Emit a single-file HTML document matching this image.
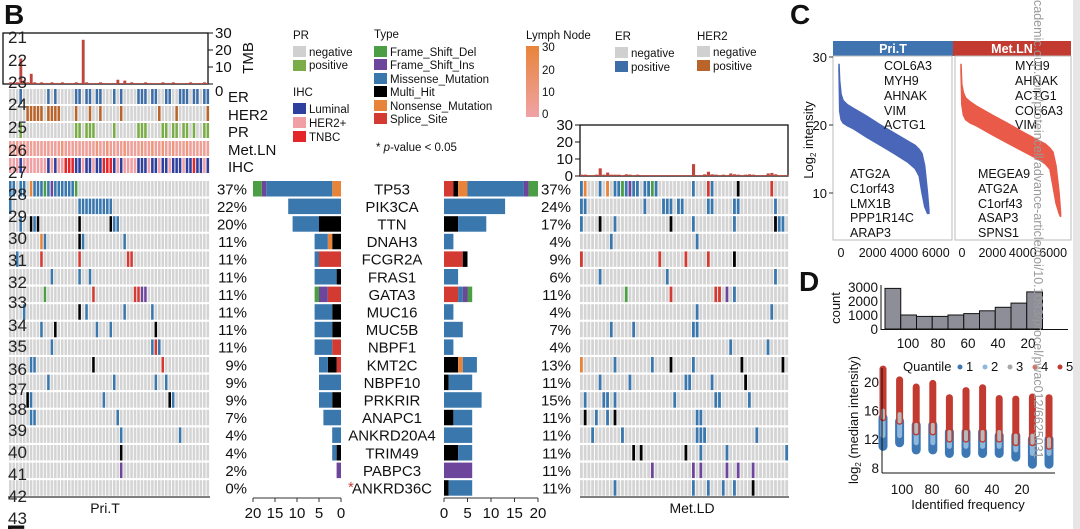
<!DOCTYPE html>
<html><head><meta charset="utf-8">
<style>
html,body{margin:0;padding:0;background:#fff;}
svg{display:block;font-family:"Liberation Sans",Arial,sans-serif;}
text{fill:#111;}
</style></head>
<body>
<svg id="fig" width="1080" height="529" viewBox="0 0 1080 529" xmlns="http://www.w3.org/2000/svg">
  <rect x="0" y="0" width="1080" height="529" fill="#fff"/>
  <rect x="1073" y="0" width="7" height="529" fill="#e6e6e6"/>
  <text x="4" y="24" font-size="28" font-weight="bold">B</text>
  <text x="790" y="24" font-size="28" font-weight="bold">C</text>
  <text x="799" y="291" font-size="28" font-weight="bold">D</text>
  <text x="6" y="546" font-size="30" font-weight="bold">E</text>

  <g font-size="11.5">
    <text x="293" y="39">PR</text>
    <rect x="293" y="46" width="13" height="11" fill="#d0d0d0"/>
    <text x="309" y="56">negative</text>
    <rect x="293" y="60" width="13" height="11" fill="#7aac47"/>
    <text x="309" y="69">positive</text>
    <text x="293" y="96">IHC</text>
    <rect x="293" y="103" width="13" height="11" fill="#2e3f9e"/>
    <text x="309" y="113">Luminal</text>
    <rect x="293" y="117" width="13" height="11" fill="#f0a0a4"/>
    <text x="309" y="127">HER2+</text>
    <rect x="293" y="131" width="13" height="11" fill="#e3262a"/>
    <text x="309" y="141">TNBC</text>

    <text x="374" y="38">Type</text>
    <rect x="374" y="46" width="13" height="11" fill="#4c9e44"/>
    <text x="390" y="56">Frame_Shift_Del</text>
    <rect x="374" y="59" width="13" height="11" fill="#6d469b"/>
    <text x="390" y="69">Frame_Shift_Ins</text>
    <rect x="374" y="73" width="13" height="11" fill="#3a77ad"/>
    <text x="390" y="83">Missense_Mutation</text>
    <rect x="374" y="86" width="13" height="11" fill="#000"/>
    <text x="390" y="96">Multi_Hit</text>
    <rect x="374" y="100" width="13" height="11" fill="#e8843a"/>
    <text x="390" y="110">Nonsense_Mutation</text>
    <rect x="374" y="113" width="13" height="11" fill="#d33a32"/>
    <text x="390" y="123">Splice_Site</text>
    <text x="376" y="151">* <tspan font-style="italic">p</tspan>-value &lt; 0.05</text>

    <text x="526" y="39">Lymph Node</text>
    <defs><linearGradient id="lg" x1="0" y1="0" x2="0" y2="1"><stop offset="0" stop-color="#e8843a"/><stop offset="1" stop-color="#efa3a6"/></linearGradient></defs>
    <rect x="526" y="46" width="13" height="71" fill="url(#lg)"/>
    <text x="542" y="51">30</text>
    <text x="542" y="74">20</text>
    <text x="542" y="96">10</text>
    <text x="542" y="118">0</text>

    <text x="615" y="40">ER</text>
    <rect x="615" y="47" width="13" height="11" fill="#d0d0d0"/>
    <text x="631" y="57">negative</text>
    <rect x="615" y="61" width="13" height="11" fill="#3d6ea8"/>
    <text x="631" y="71">positive</text>
    <text x="697" y="40">HER2</text>
    <rect x="697" y="46" width="13" height="11" fill="#d0d0d0"/>
    <text x="713" y="56">negative</text>
    <rect x="697" y="60" width="13" height="11" fill="#b8642a"/>
    <text x="713" y="70">positive</text>
  </g>

  <rect x="3" y="33" width="205" height="51" fill="none" stroke="#111" stroke-width="1.3"/>
  <text x="253" y="58" font-size="15" transform="rotate(-90 253 58)" text-anchor="middle">TMB</text>
  <rect x="580" y="125" width="208" height="51" fill="none" stroke="#111" stroke-width="1.3"/>

  <g font-size="15">
    <text x="228" y="102">ER</text>
    <text x="228" y="120">HER2</text>
    <text x="228" y="137">PR</text>
    <text x="228" y="155">Met.LN</text>
    <text x="228" y="172">IHC</text>
  </g>
  <text x="105" y="513" font-size="14" text-anchor="middle">Pri.T</text>
  <text x="692" y="513" font-size="14" text-anchor="middle">Met.LD</text>
  <line x1="8" y1="497" x2="210" y2="497" stroke="#333" stroke-width="1.2"/>
  <line x1="580" y1="497" x2="789" y2="497" stroke="#333" stroke-width="1.2"/>

  <rect x="833" y="41" width="120" height="15" fill="#3f74b0"/>
  <rect x="953" y="41" width="118" height="15" fill="#c23a30"/>
  <text x="893" y="53" font-size="12.5" font-weight="bold" text-anchor="middle" style="fill:#fff">Pri.T</text>
  <text x="1012" y="53" font-size="12.5" font-weight="bold" text-anchor="middle" style="fill:#fff">Met.LN</text>
  <rect x="833" y="56" width="119" height="184" fill="none" stroke="#bbb"/>
  <rect x="955" y="56" width="116" height="184" fill="none" stroke="#bbb"/>
  <text x="813" y="140" font-size="13" transform="rotate(-90 813 140)" text-anchor="middle">Log<tspan font-size="8" dy="3">2</tspan><tspan dy="-3"> intensity</tspan></text>
  <g id="cgroup"></g>
  <g font-size="12.5">
    <text x="884" y="70">COL6A3</text><text x="884" y="85">MYH9</text><text x="884" y="100">AHNAK</text><text x="884" y="115">VIM</text><text x="884" y="129">ACTG1</text>
    <text x="850" y="178">ATG2A</text><text x="850" y="193">C1orf43</text><text x="850" y="208">LMX1B</text><text x="850" y="222">PPP1R14C</text><text x="850" y="237">ARAP3</text>
    <text x="1015" y="70">MYH9</text><text x="1015" y="85">AHNAK</text><text x="1015" y="100">ACTG1</text><text x="1015" y="115">COL6A3</text><text x="1015" y="129">VIM</text>
    <text x="978" y="178">MEGEA9</text><text x="978" y="193">ATG2A</text><text x="978" y="208">C1orf43</text><text x="978" y="222">ASAP3</text><text x="978" y="237">SPNS1</text>
  </g>

  <text x="840" y="308" font-size="13" transform="rotate(-90 840 308)" text-anchor="middle">count</text>
  <text x="858" y="420" font-size="13" transform="rotate(-90 858 420)" text-anchor="middle">log<tspan font-size="8" dy="3">2</tspan><tspan dy="-3"> (median intensity)</tspan></text>
  <text x="968" y="509" font-size="13" text-anchor="middle">Identified frequency</text>
  <g font-size="13">
    <text x="903" y="371">Quantile</text>
  </g>
  <g id="dgroup"></g>
  <g id="main"></g>

  <text x="1034" y="0" font-size="12.5" transform="rotate(90 1034 0)" style="fill:#9a9a9a">cademic.oup.com/proteincell/advance-article/doi/10.1093/procel/pwac012/6625031</text>
  <g id="overlay" font-size="17"></g>
</svg>
<script>
// ---------------- DATA ----------------
const genes = ["TP53","PIK3CA","TTN","DNAH3","FCGR2A","FRAS1","GATA3","MUC16","MUC5B","NBPF1","KMT2C","NBPF10","PRKRIR","ANAPC1","ANKRD20A4","TRIM49","PABPC3","ANKRD36C"];
const leftPct = ["37%","22%","20%","11%","11%","11%","11%","11%","11%","11%","9%","9%","9%","7%","4%","4%","2%","0%"];
const rightPct = ["37%","24%","17%","4%","9%","6%","11%","4%","7%","4%","13%","11%","15%","11%","11%","11%","11%","11%"];
// counts per type order: splice, multi, nonsense, missense, ins, del
const leftCounts = [[0,0,2,15,1,2],[0,0,0,12,0,0],[0,5,0,6,0,0],[0,2,1,3,0,0],[5,0,0,1,0,0],[0,1,0,5,0,0],[3,0,0,0,2,1],[0,2,0,4,0,0],[0,2,0,4,0,0],[2,0,0,4,0,0],[1,2,0,2,0,0],[0,0,0,5,0,0],[0,2,0,3,0,0],[0,0,0,4,0,0],[0,0,0,2,0,0],[0,1,0,1,0,0],[0,0,0,0,1,0],[0,0,0,0,0,0]];
const rightCounts = [[2,1,2,12,1,2],[0,0,0,13,0,0],[0,3,0,6,0,0],[0,0,0,2,0,0],[4,1,0,0,0,0],[0,0,0,3,0,0],[3,0,0,1,1,1],[0,0,0,2,0,0],[0,0,0,4,0,0],[0,0,0,2,0,0],[0,3,1,3,0,0],[0,1,0,5,0,0],[0,0,0,8,0,0],[0,2,0,4,0,0],[0,0,0,6,0,0],[0,3,0,3,0,0],[0,0,0,0,6,0],[0,1,0,5,0,0]];
const barTicks = [0,5,10,15,20];
const leftMut = [
 "0m 1m 3m 4m 6n 7m 8m 9m 10d 11m 12i 13m 14m 15m 16m 17m 18m 19d",
 "0m 20m 21m 22m 23m 24m 25m 26m 27m 28m 29m",
 "3m 6k 7m 8k 20k 29k 30m 31m",
 "9n 10m 20k 21m 33m",
 "2m 9s 20s 34s 35s",
 "12m 20m 23m",
 "10d 24s 36s 37s 38i 39i",
 "4m 20k 22m 33m 41m",
 "9m 13k 25m 29m 42k",
 "12m 41m 42s 43m",
 "6m 7m 24k 44s",
 "11m 30m 42m 45m",
 "5k 6m 27m 46k 47m",
 "6m 7m 31m",
 "32m 49m",
 "32k",
 "32i",
 ""];
const rightMut = [
 "0m 1n 5m 7n 9m 10m 11d 12m 13i 14m 15m 17m 18m 19d 20m 30m 34s 35m 42k 51s",
 "0m 1m 17m 22m 23m 24m 26m 27m 34m 35m 41m 42m 52m",
 "0m 5k 9m 24k 30m 41m 52k 53m 54m",
 "8m 31m",
 "0s 21s 28s 34s 41k",
 "5m 23m 52m",
 "12d 24s 36s 37s 39i 41m",
 "31m 51m",
 "8m 14m 30m 31m",
 "40m 50m",
 "0n 9m 19m 24k 30m 43k 54k",
 "5m 13m 28m 29m 35m 44k",
 "1m 6m 7m 9m 25m 36m 37m 45m",
 "1k 4m 7m 9k 31m 32m",
 "3m 11m 31m 32m 33m 47m",
 "14k 16k 28k 32m 39m 55m",
 "19i 30i 32i 39i 42i 46i",
 "9m 30m 34m 38m 41m 46k"];
const erTrack   = "...p.......p.p.....pp.pp.pp...p.p....ppp.pp..pp..ppp.pp.pp";
const her2Track = ".....ppppp.pppp....p...p..p.....p..........p....p........p";
const prTrack   = "...p...............pp.ppp.....p......ppp....pp.pp.pp.p..pp";
const ihcTrack  = "HHHLHHHHHHHLHLHHTTTLLHLLHLLTTTLHLHHHHLLLHLLHLLHLLLHLLTLLHL";
const metlnTrack= [4,3,5,4,3,4,4,5,3,4,4,4,3,4,5,12,4,4,3,4,5,4,3,4,4,12,4,3,12,4,4,4,5,12,4,4,3,4,12,4,4,12,4,4,12,4,3,12,4,4,5,12,4,4,3,5,4,4];
const tmbLeft  = [1,1,1,15,2,1,6,1,0.5,1,0.5,0.5,1,0.5,0.5,1,0.5,0.5,0.5,1,0.5,26,1,0.5,0.5,0.5,1,0.5,0.5,0.5,0.5,2.5,0.5,2,0.5,1,0.5,0.5,0.5,1,0.5,0.5,0.5,0.5,1,0.5,0.5,1,0.5,0.5,0.5,0.5,1,0.5,0.5,0.5,1,0.5];
const tmbRight = [0.8,0.8,0.5,0.5,0.8,4.5,0.8,2,0.8,0.8,0.8,0.5,1,0.8,0.5,0.8,0.5,0.5,0.5,0.5,0.5,0.5,0.5,0.5,0.5,0.5,0.5,0.5,0.5,0.5,7,0.5,0.5,1,2.5,1,0.8,0.5,0.8,0.5,1.5,1,0.8,0.5,0.8,1,0.8,0.5,0.5,0.5,1.5,1.8,1,0.5,0.5,0.5];
const tmbTicks = [0,10,20,30];
const cRanks = [0,50,150,300,600,1000,2000,3000,4000,5000,5500,5800,6000,6200,6400,6500];
const priUpper = [29,26.5,24.5,23.6,23,22.5,21.3,20,18.8,17.6,17,16.4,15.8,14,10,7.5];
const priLower = [28,22,20.8,20.3,19.9,19.5,18.2,17,15.8,14.5,13.6,12.5,10,8,7,7];
const metUpper = [29,26,24.8,24,23.4,22.8,21.5,20.3,19,17.8,17.2,16.6,16,14,10,7];
const metLower = [28,23,21.5,20.8,20.3,19.9,18.6,17.4,16.2,15,14.3,13.5,11,8.5,7,6.5];
const cYTicks = [10,20,30];
const cXTicks = [0,2000,4000,6000];
const histBinStart = [110,99.5,89,78.5,68,57.5,47,36.5,26,15.5];
const histCounts = [2900,1000,900,900,1000,1100,1300,1550,1850,2650];
const histYTicks = [0,1000,2000,3000];
const freqTicks = [100,80,60,40,20];
const stripFreq = [110,100,90,80,70,60,50,40,30,20,10];
const q5Top   = [21.8,20.3,19.3,19.8,17.8,18.8,19.2,17.7,17.6,17.9,17.8];
const redBottom = [15,14.5,13,13,12,12,12,12,11.5,11.5,11];
const lightTop = [15.5,15.5,14.5,14.5,13.5,13.5,13.5,13,13,12.5,12.5];
const lightBottom = [12.5,12.5,11.5,11.5,11,11,11,11,10.5,10,10];
const blueTop = [15,14.5,14,14,13,13,13,12.5,12.5,12,12];
const blueMin = [11,11.5,10.5,10.5,10,10,10,10,9.5,8.5,8.5];
const scatterYTicks = [8,12,16,20];

// ---------------- RENDER ----------------
const NS="http://www.w3.org/2000/svg";
const main=document.getElementById('main');
function mk(tag, attrs, parent){const e=document.createElementNS(NS,tag);for(const k in attrs)e.setAttribute(k,attrs[k]);(parent||main).appendChild(e);return e;}
const typeColor={m:"#3a77ad",k:"#000000",n:"#e8843a",s:"#d33a32",i:"#6d469b",d:"#4c9e44"};
const typeOrder=["s","k","n","m","i","d"];
const GREY="#d4d4d4";
const rowY=i=>181+i*17.6, rowH=15.5;
const L={x0:9,n:58,w:(210-9)/58};
const R={x0:580,n:56,w:(789-580)/56};
function parse(s){const o={};s.split(" ").filter(Boolean).forEach(t=>{o[parseInt(t)]=t.replace(/[0-9]/g,'');});return o;}

function heat(side,muts,prefix){
  muts.forEach((s,gi)=>{
    const m=parse(s);
    for(let c=0;c<side.n;c++){
      const t=m[c];
      const r=mk('rect',{x:side.x0+c*side.w,y:rowY(gi),width:side.w-0.9,height:rowH,fill:t?typeColor[t]:GREY});
      
      
    }
  });
}
heat(L,leftMut,'left');
heat(R,rightMut,'right');

const trackY=[89,106,123,141,158];
function lnColor(v){const a=[0xef,0xa3,0xa6],b=[0xe8,0x84,0x3a];const t=Math.min(1,v/30);return 'rgb('+a.map((x,i)=>Math.round(x+(b[i]-x)*t)).join(',')+')';}
for(let c=0;c<L.n;c++){
  const x=L.x0+c*L.w, w=L.w-0.9;
  let r=mk('rect',{x:x,y:trackY[0],width:w,height:15,fill:erTrack[c]==='p'?"#3d6ea8":GREY});
  
  
  r=mk('rect',{x:x,y:trackY[1],width:w,height:15,fill:her2Track[c]==='p'?"#b8642a":GREY});
  
  
  r=mk('rect',{x:x,y:trackY[2],width:w,height:15,fill:prTrack[c]==='p'?"#7aac47":GREY});
  
  
  r=mk('rect',{x:x,y:trackY[3],width:w,height:15,fill:lnColor(metlnTrack[c])});
  
  
  const ih=ihcTrack[c];
  r=mk('rect',{x:x,y:trackY[4],width:w,height:15,fill:ih==='L'?"#2e3f9e":ih==='T'?"#e3262a":"#f0a0a4"});
  
  
}

const tmbLY=v=>84-v*51/30, tmbRY=v=>176-v*51/30;
tmbLeft.forEach((v,c)=>{
  const r=mk('rect',{x:L.x0+c*L.w,y:tmbLY(v),width:L.w-0.6,height:84-tmbLY(v),fill:"#c0453c"});
  
  
});
tmbRight.forEach((v,c)=>{
  const r=mk('rect',{x:R.x0+c*R.w,y:tmbRY(v),width:R.w-0.6,height:176-tmbRY(v),fill:"#c0453c"});
  
  
});
tmbTicks.forEach(v=>{
  let l=mk('line',{x1:208,x2:213,y1:tmbLY(v),y2:tmbLY(v),stroke:"#111"});
  
  
  let t=mk('text',{x:215,y:tmbLY(v)+5+(v===0?7:0),'font-size':15});t.textContent=v;
  
  
  l=mk('line',{x1:575,x2:580,y1:tmbRY(v),y2:tmbRY(v),stroke:"#111"});
  
  
  t=mk('text',{x:573,y:tmbRY(v)+5,'font-size':15,'text-anchor':'end'});t.textContent=v;
  
  
});

const lbX=v=>341-v*4.4, rbX=v=>444+v*4.7;
genes.forEach((g,i)=>{
  const cy=rowY(i)+rowH/2;
  let t=mk('text',{x:392,y:cy+5.5,'font-size':15,'text-anchor':'middle'});t.textContent=g;
  
  
  t=mk('text',{x:247,y:cy+5.5,'font-size':15,'text-anchor':'end'});t.textContent=leftPct[i];
  
  
  t=mk('text',{x:571,y:cy+5.5,'font-size':15,'text-anchor':'end'});t.textContent=rightPct[i];
  
  
  let acc=0;
  leftCounts[i].forEach((v,k)=>{ if(!v)return;
    const r=mk('rect',{x:lbX(acc+v),y:rowY(i),width:lbX(acc)-lbX(acc+v),height:rowH,fill:typeColor[typeOrder[k]]});
    
    
    acc+=v;});
  acc=0;
  rightCounts[i].forEach((v,k)=>{ if(!v)return;
    const r=mk('rect',{x:rbX(acc),y:rowY(i),width:rbX(acc+v)-rbX(acc),height:rowH,fill:typeColor[typeOrder[k]]});
    
    
    acc+=v;});
});
let star=mk('text',{x:348,y:492,'font-size':15,style:"fill:#c0453c"});star.textContent="*";


let ax=mk('line',{x1:lbX(20),x2:lbX(0),y1:498,y2:498,stroke:"#333"});


ax=mk('line',{x1:rbX(0),x2:rbX(20),y1:498,y2:498,stroke:"#333"});


barTicks.forEach(v=>{
  let l=mk('line',{x1:lbX(v),x2:lbX(v),y1:498,y2:502,stroke:"#333"});
  
  
  let t=mk('text',{x:lbX(v),y:518,'font-size':15,'text-anchor':'middle'});t.textContent=v;
  
  
  l=mk('line',{x1:rbX(v),x2:rbX(v),y1:498,y2:502,stroke:"#333"});
  
  
  t=mk('text',{x:rbX(v),y:518,'font-size':15,'text-anchor':'middle'});t.textContent=v;
  
  
});

// ---------- panel C ----------
const cg=document.getElementById('cgroup');
const cY=v=>57+(30-v)*6.8;
const cXL=r=>839+r*0.01383, cXR=r=>961+r*0.01533;
const cLabL=r=>841+r*0.0158, cLabR=r=>962+r*0.0152;
function band(xf,up,lo,col,name){
  let d='M'+cRanks.map((r,i)=>xf(r).toFixed(1)+','+cY(up[i]).toFixed(1)).join('L');
  for(let i=cRanks.length-1;i>=0;i--) d+='L'+xf(cRanks[i]).toFixed(1)+','+cY(lo[i]).toFixed(1);
  const p=mk('path',{d:d+'Z',fill:col,stroke:col,'stroke-width':1.5},cg);
  
  
}
band(cXL,priUpper,priLower,"#4a66b8",'pri-t-intensity-band');
band(cXR,metUpper,metLower,"#ea5a48",'met-ln-intensity-band');
cYTicks.forEach(v=>{
  const l=mk('line',{x1:829,x2:833,y1:cY(v),y2:cY(v),stroke:"#333"},cg);
  
  
  const t=mk('text',{x:827,y:cY(v)+5,'font-size':13,'text-anchor':'end'},cg);t.textContent=v;
  
  
});
cXTicks.forEach(v=>{
  let t=mk('text',{x:cLabL(v),y:257,'font-size':12.5,'text-anchor':'middle'},cg);t.textContent=v;
  
  
  t=mk('text',{x:cLabR(v),y:257,'font-size':12.5,'text-anchor':'middle'},cg);t.textContent=v;
  
  
});

// ---------- panel D ----------
const dg=document.getElementById('dgroup');
const fX=v=>1050-v*1.5;
const hY=v=>329-v*0.014;
histCounts.forEach((c,i)=>{
  const x1=fX(histBinStart[i]), x2=fX(histBinStart[i]-10.5);
  const r=mk('rect',{x:x1,y:hY(c),width:x2-x1,height:329-hY(c),fill:"#8e8e98",stroke:"#111",'stroke-width':1},dg);
  
  
});
let a=mk('line',{x1:881,x2:1068,y1:329.5,y2:329.5,stroke:"#111"},dg);


a=mk('line',{x1:881,x2:881,y1:285,y2:330,stroke:"#111"},dg);


histYTicks.forEach(v=>{
  const t=mk('text',{x:878,y:hY(v)+5,'font-size':13.5,'text-anchor':'end'},dg);t.textContent=v;
  
  
});
freqTicks.forEach(v=>{
  let t=mk('text',{x:fX(v)+8,y:348,'font-size':13.5,'text-anchor':'middle'},dg);t.textContent=v;
  
  
  t=mk('text',{x:fX(v)+2,y:494,'font-size':13.5,'text-anchor':'middle'},dg);t.textContent=v;
  
  
});
const sY=v=>382+(20-v)*7.15;
const sX=f=>1049-(f-10)*1.66;
stripFreq.forEach((f,i)=>{
  const x=sX(f);
  const seg=(lo,hi,col,w,nm)=>{const l=mk('line',{x1:x,x2:x,y1:sY(hi),y2:sY(lo),stroke:col,'stroke-width':w,'stroke-linecap':'round'},dg);
    
    };
  seg(blueMin[i],blueTop[i],"#3d78b4",9,'strip-quantile-1');
  seg(lightBottom[i],lightTop[i],"#8fb8dc",5,'strip-quantile-2');
  seg(redBottom[i],q5Top[i],"#c23a30",7,'strip-quantile-5');
  seg(redBottom[i],redBottom[i]+1,"#b8b8b8",4,'strip-quantile-3');
});
a=mk('line',{x1:882,x2:882,y1:368,y2:473,stroke:"#111"},dg);


a=mk('line',{x1:882,x2:1055,y1:473,y2:473,stroke:"#111"},dg);


scatterYTicks.forEach(v=>{
  const t=mk('text',{x:879,y:sY(v)+5,'font-size':13.5,'text-anchor':'end'},dg);t.textContent=v;
  
  
});
const qCols=["#3d78b4","#8fb8dc","#a8a8a8","#e06a5a","#c23a30"];
qCols.forEach((c,i)=>{
  const x=960+i*25;
  const d=mk('circle',{cx:x,cy:367,r:2.5,fill:c},dg);
  
  
  const t=mk('text',{x:x+6,y:371,'font-size':13},dg);t.textContent=String(i+1);
  
  
});

const ov=document.getElementById('overlay');
const lineNumY=[37,60,82,104,127,150,172,194,216,238,260,282,302,325,346,369,389,409,430,452,474,496,518];
lineNumY.forEach((y,i)=>{
  const t=mk('text',{x:8,y:y+6,'font-size':17,style:"fill:#222"},ov);t.textContent=String(21+i);
  
  
});
</script>
</body></html>
